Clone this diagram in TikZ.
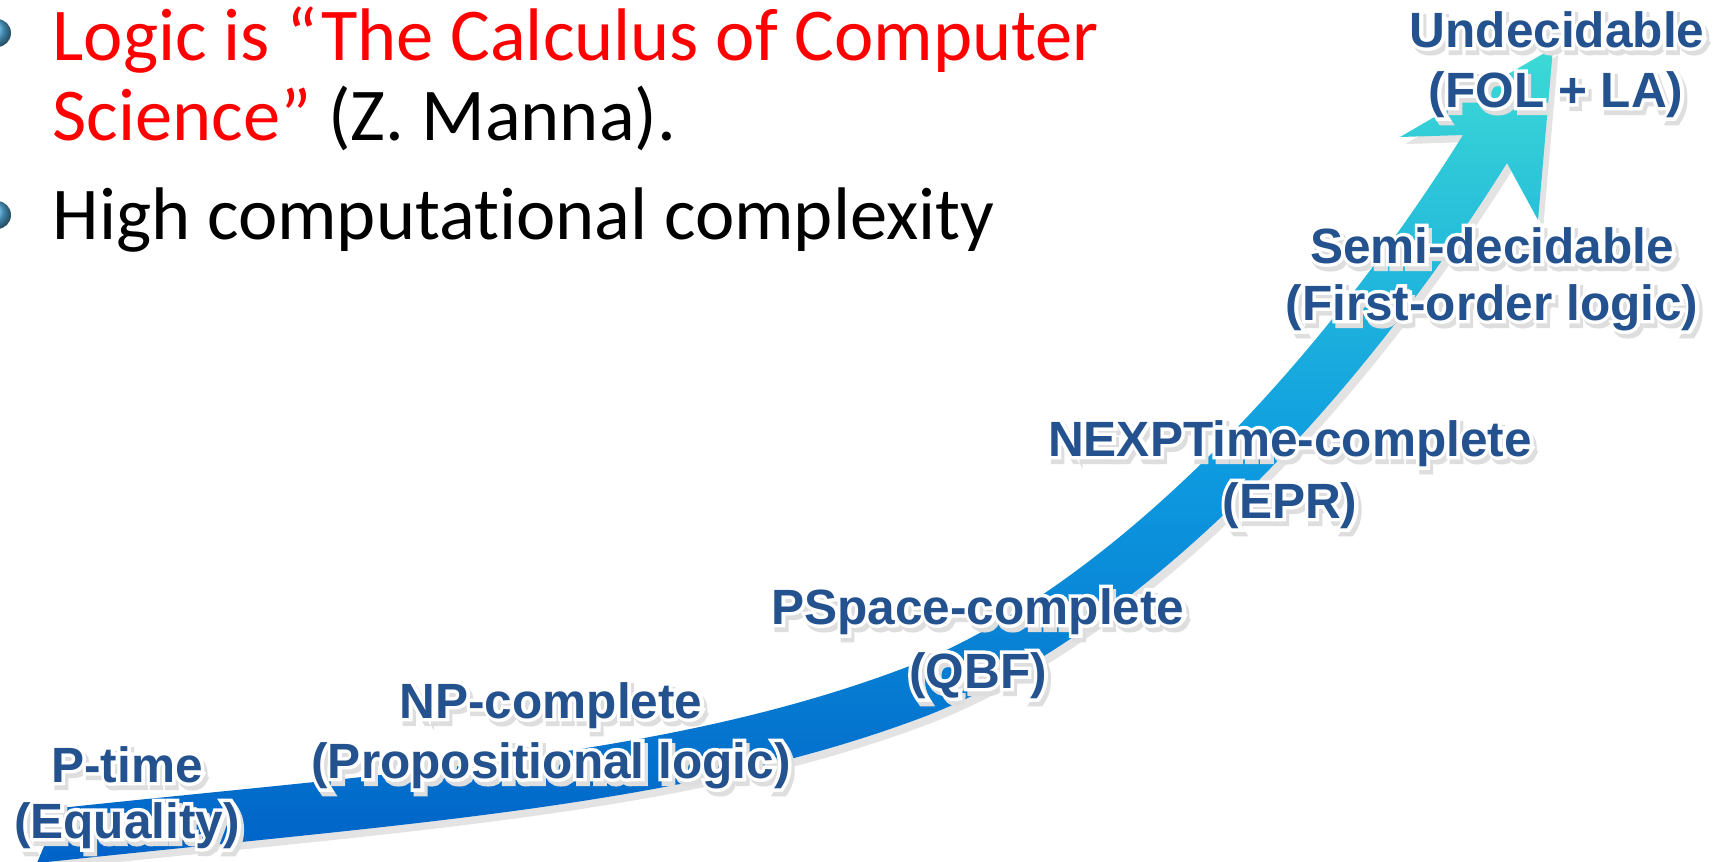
\documentclass[tikz,border=0pt]{standalone}
\usepackage{fontspec}
\setmainfont{Carlito}[Ligatures=CommonOff]
\newfontfamily\labelfont{Liberation Sans}
\newfontfamily\rimfont{Liberation Sans}[BoldFeatures={FakeBold=14}]
\usetikzlibrary{shadows}

\definecolor{labelblue}{HTML}{24528F}
\definecolor{bulletblue}{HTML}{5CBDF0}
\definecolor{arrowlow}{HTML}{0062C7}
\definecolor{arrowmid}{HTML}{0E9CE0}
\definecolor{arrowhigh}{HTML}{3CDAD6}

% soft shadow and white rim behind the label letters
\newcommand{\glow}[1]{%
  \rlap{\kern0.9pt\raisebox{-1.3pt}{\rimfont\color{black!13}#1}}%
  \rlap{\rimfont\color{white}#1}#1}

\begin{document}
\begin{tikzpicture}[
  x=0.1mm, y=-0.1mm,
  bullettext/.style = {anchor=base west, inner sep=0pt, font=\fontsize{21.2}{25}\selectfont},
  lbl/.style = {anchor=base, inner sep=0pt, text=labelblue, font=\labelfont\bfseries\fontsize{14.1}{16}\selectfont},
  bigarrow/.style = {top color=arrowhigh, bottom color=arrowlow, middle color=arrowmid,
    drop shadow={opacity=0.22, shadow xshift=1.5pt, shadow yshift=-2pt}}
  ]
  \useasboundingbox (0,0) rectangle (1721,862);
  \clip (0,0) rectangle (1721,862);

  % bullets, half cut off by the left margin
  \shade[ball color=bulletblue] (-3,33) circle (14);
  \shade[ball color=bulletblue] (-3,215) circle (14);

  \node[bullettext, text=red] (logic) at (52,60) {Logic is “The Calculus of Computer};
  \node[bullettext] (manna) at (52,140) {\textcolor{red}{Science”} (Z. Manna).};
  \node[bullettext] (complexity) at (52,239) {High computational complexity};

  % the rising arrow: upper edge, head, lower edge
  \shade[bigarrow] (60,808)
    .. controls (408,771) and (673,756) .. (907,667)
    .. controls (1094,595) and (1304,389) .. (1463,135)
    -- (1400,137) -- (1553,48) -- (1538,220) -- (1507,163)
    .. controls (1340,430) and (1122,640) .. (926,716)
    .. controls (692,805) and (414,823) .. (66,860)
    -- (37,863) -- cycle;

  % complexity classes along the arrow
  \node[lbl] (ptime)    at (127,782)  {\glow{P-time}};
  \node[lbl] (ptimeex)  at (127,838)  {\glow{(Equality)}};
  \node[lbl] (np)       at (551,718)  {\glow{NP-complete}};
  \node[lbl] (npex)     at (551,778)  {\glow{(Propositional logic)}};
  \node[lbl] (pspace)   at (978,624)  {\glow{PSpace-complete}};
  \node[lbl] (pspaceex) at (978,688)  {\glow{(QBF)}};
  \node[lbl] (nexp)     at (1290,456) {\glow{NEXPTime-complete}};
  \node[lbl] (nexpex)   at (1290,518) {\glow{(EPR)}};
  \node[lbl] (semi)     at (1492,263) {\glow{Semi-decidable}};
  \node[lbl] (semiex)   at (1492,320) {\glow{(First-order logic)}};
  \node[lbl] (undec)    at (1557,47)  {\glow{Undecidable}};
  \node[lbl] (undecex)  at (1556,107) {\glow{(FOL + LA)}};
\end{tikzpicture}
\end{document}
